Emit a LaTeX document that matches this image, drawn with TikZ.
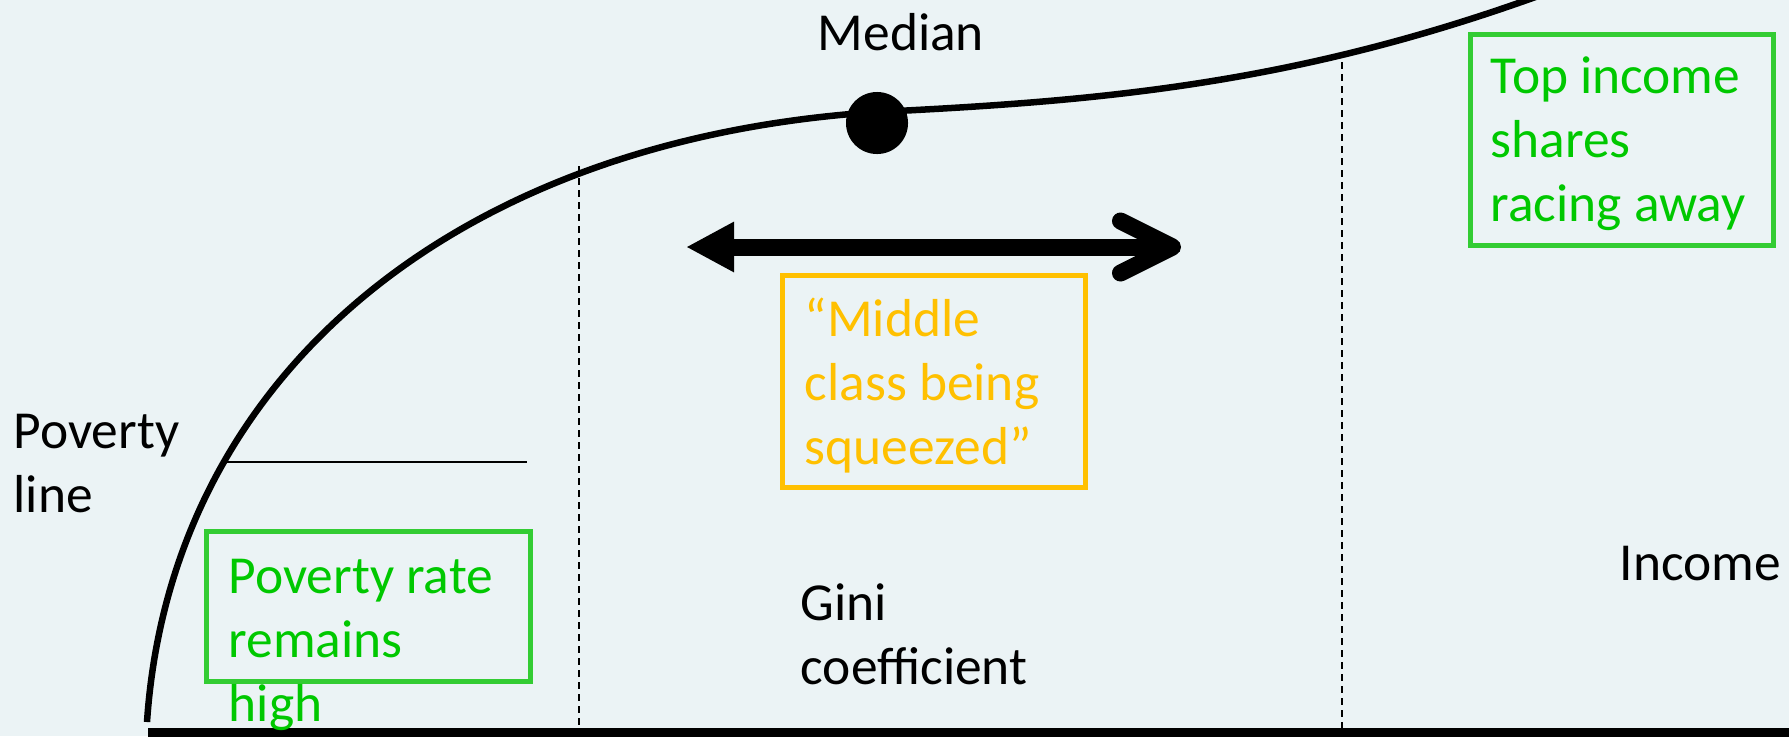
\documentclass[tikz,border=0pt]{standalone}
\usepackage{fontspec}
\setmainfont{Carlito}
\usetikzlibrary{positioning,arrows.meta}

\definecolor{bgblue}{RGB}{235,243,245}
\definecolor{boxgreen}{RGB}{51,204,51}
\definecolor{textgreen}{RGB}{0,200,0}
\definecolor{gold}{RGB}{255,192,0}

\begin{document}
\begin{tikzpicture}[x=0.01cm,y=-0.01cm,
		lbl/.style={inner sep=0pt,anchor=base west,align=left,
			font=\fontsize{15.2}{18.1}\selectfont},
		box/.style={draw,line width=0.05cm,inner sep=0pt},
		guide/.style={line width=0.02cm,dash pattern=on 0.07cm off 0.05cm}]
		\useasboundingbox (0,0) rectangle (1789,736);
		\clip (0,0) rectangle (1789,736);
		\fill[bgblue] (0,0) rectangle (1789,736);
		
		% income curve
		\node (m)  [circle,fill,minimum size=0.62cm,inner sep=0pt] at (877,123) {};
		\draw[line width=0.065cm] (147,722) .. controls (170,380) and (450,140) .. (877,112)
			.. controls (1100,101) and (1300,85) .. (1560,-12);
		\draw[line width=0.1cm] (148,733) -- (1789,733);
		\node (ml) [lbl] at (817,50) {Median};
		
		% poverty line
		\coordinate (p1) at (225,462);
		\coordinate (p2) at (527,462);
		\draw[line width=0.015cm] (p1) -- (p2);
		\node (pl) [lbl] at (13,512) {Poverty\\line};
		
		% dashed guides
		\coordinate (d1) at (579,166);
		\coordinate (d1b) at (579,736);
		\coordinate (d2) at (1342,62);
		\coordinate (d2b) at (1342,736);
		\draw[guide] (d1) -- (d1b);
		\draw[guide] (d2) -- (d2b);
		
		% squeeze arrow
		\coordinate (al) at (686,247);
		\coordinate (ar) at (1181,247);
		\draw[line width=0.17cm,
			{Triangle[length=0.48cm,width=0.47cm]}-{Straight Barb[length=0.52cm,width=0.52cm,line cap=round,line join=round]}]
			(al) -- (ar);
		
		% boxes
		\node (b1) [box,boxgreen,minimum width=3.24cm,minimum height=1.5cm] at (368.5,606.5) {};
		\node (t1) [lbl,textgreen] at (228,721) {Poverty rate\\remains\\high};
		
		\node (b2) [box,gold,minimum width=3.03cm,minimum height=2.12cm] at (934,381.5) {};
		\node (t2) [lbl,gold] at (804,464) {“Middle\\class being\\squeezed”};
		
		\node (b3) [box,boxgreen,minimum width=3.03cm,minimum height=2.11cm] at (1622,140) {};
		\node (t3) [lbl,textgreen] at (1490,221) {Top income\\shares\\racing away};
		
		\node (g)  [lbl] at (800,684) {Gini\\coefficient};
		\node (in) [lbl] at (1619,580) {Income};
	\end{tikzpicture}
\end{document}
